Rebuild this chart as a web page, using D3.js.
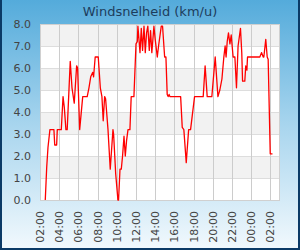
<!DOCTYPE html>
<html>
<head>
<meta charset="utf-8">
<script src="https://cdn.jsdelivr.net/npm/d3@7"></script>
<style>
html,body{margin:0;padding:0;background:#fff;}
svg{display:block;font-family:"DejaVu Sans",sans-serif;}
</style>
</head>
<body>
<svg id="c" width="300" height="250"></svg>
<script>
const title = "Windsnelheid (km/u)";
const times = ["02:33","02:42","02:50","03:02","03:27","03:32","03:44","03:48","04:13","04:24",
"04:32","04:42","04:50","05:09","05:20","05:34","05:49","05:55","06:08","06:27",
"06:55","07:06","07:17","07:29","07:35","07:45","08:04","08:17","08:27","08:35",
"08:44","08:50","09:05","09:19","09:36","09:40","09:53","10:07","10:11","10:20",
"10:28","10:36","10:45","10:53","11:01","11:10","11:22","11:30","11:47","12:00",
"12:08","12:12","12:25","12:33","12:41","12:50","12:58","13:06","13:14","13:23",
"13:31","13:39","13:52","14:00","14:13","14:21","14:38","14:46","14:59","15:07",
"15:15","15:21","15:27","15:32","16:39","16:49","16:59","17:14","17:29","17:41",
"18:06","19:00","19:12","19:25","19:54","20:15","20:32","20:44","20:57","21:09",
"21:17","21:23","21:30","21:38","21:47","21:55","22:07","22:18","22:28","22:38",
"22:53","23:01","23:06","23:20","23:26","23:33","23:37","00:54","01:05","01:15",
"01:19","01:31","01:40","01:46","01:59","02:13"];
const speeds = [0.0,1.5,2.4,3.2,3.2,2.5,2.5,3.2,3.2,4.7,
4.2,3.2,3.2,6.3,5.1,4.4,6.1,6.0,3.2,4.7,
4.7,5.1,5.6,5.8,5.6,6.5,6.5,5.1,4.7,3.6,
4.7,4.6,3.2,1.4,3.2,3.0,1.2,0.0,0.0,1.4,
1.4,2.0,2.9,2.0,2.7,3.2,3.2,4.7,4.7,7.1,
7.2,7.9,6.7,7.8,6.8,7.9,6.7,7.6,7.9,6.8,
7.7,6.7,7.9,7.3,6.5,7.0,7.9,7.9,6.5,6.5,
4.8,4.7,4.8,4.7,4.7,3.3,3.2,1.7,3.2,3.2,
4.7,4.7,6.1,4.7,4.7,6.5,4.7,5.0,5.5,6.5,
7.0,6.5,7.2,7.6,7.1,7.5,6.5,6.5,5.1,7.0,
7.8,6.7,5.4,5.4,6.1,5.9,6.5,6.5,6.7,6.5,
6.5,7.3,6.5,6.4,2.1,2.1];
const yTicks = [0,1,2,3,4,5,6,7,8];
const startTime = "2024-01-01 02:00";
const endTime = "2024-01-02 03:00";

const parse = d3.timeParse("%Y-%m-%d %H:%M");
const t0 = parse(startTime), t1 = parse(endTime);
// build dates with day rollover
let day = 0, prev = -1;
const data = times.map((s, i) => {
  const [h, m] = s.split(":").map(Number);
  const mins = h * 60 + m;
  if (prev >= 0 && mins < prev) day++;
  prev = mins;
  const d = new Date(t0.getFullYear(), t0.getMonth(), t0.getDate() + day, h, m);
  return {t: d, v: speeds[i]};
});

const svg = d3.select("#c");
const W = 300, H = 250;
const L = 40, R = 280, T = 24, B = 200;

const defs = svg.append("defs");
const g = defs.append("linearGradient").attr("id", "bg").attr("x1", 0).attr("y1", 0).attr("x2", 0).attr("y2", 1);
g.append("stop").attr("offset", "0%").attr("stop-color", "#54abdb");
g.append("stop").attr("offset", "50%").attr("stop-color", "#a8d5ee");
g.append("stop").attr("offset", "100%").attr("stop-color", "#f2f9fd");
svg.append("rect").attr("width", W).attr("height", H).attr("fill", "url(#bg)");
// frame
svg.append("path").attr("d", `M1,0 V249 H299 V0`).attr("fill", "none").attr("stroke", "#0b3a66").attr("stroke-width", 2);

const x = d3.scaleTime().domain([t0, t1]).range([L, R]);
const y = d3.scaleLinear().domain([0, 8]).range([B, T]);

// bands
svg.append("g").selectAll("rect").data(yTicks.slice(0, -1)).join("rect")
  .attr("x", L).attr("width", R - L)
  .attr("y", d => y(d + 1)).attr("height", d => y(d) - y(d + 1))
  .attr("fill", d => d % 2 === 1 ? "#f2f2f2" : "#ffffff");

// horizontal grid
svg.append("g").selectAll("line").data(yTicks).join("line")
  .attr("x1", L).attr("x2", R)
  .attr("y1", d => Math.round(y(d)) + 0.5).attr("y2", d => Math.round(y(d)) + 0.5)
  .attr("stroke", "#dddddd").attr("stroke-width", 1);

const xTicks = x.ticks(d3.timeHour.every(2));
// vertical grid
svg.append("g").selectAll("line").data(xTicks).join("line")
  .attr("x1", d => Math.round(x(d)) + 0.5).attr("x2", d => Math.round(x(d)) + 0.5)
  .attr("y1", T).attr("y2", B)
  .attr("stroke", "#cccccc").attr("stroke-width", 1);

// plot border
svg.append("rect").attr("x", L + 0.5).attr("y", T + 0.5).attr("width", R - L - 1).attr("height", B - T)
  .attr("fill", "none").attr("stroke", "#d0d0d0").attr("stroke-width", 1);

// line
const line = d3.line().x(d => x(d.t)).y(d => y(d.v));
svg.append("path").datum(data).attr("d", line)
  .attr("fill", "none").attr("stroke", "#ff0000").attr("stroke-width", 1.3)
  .attr("stroke-linejoin", "round");

// y axis labels
const yAxis = d3.axisLeft(y).tickValues(yTicks).tickFormat(d3.format(".1f")).tickSize(0).tickPadding(0);
const ya = svg.append("g").attr("transform", `translate(31,0)`).call(yAxis);
ya.select(".domain").remove();
ya.selectAll("text").attr("font-size", 11).attr("fill", "#444").attr("font-family", "DejaVu Sans");

// x axis labels
const xAxis = d3.axisBottom(x).tickValues(xTicks).tickFormat(d3.timeFormat("%H:%M")).tickSize(0);
const xa = svg.append("g").attr("transform", `translate(0,${B})`).call(xAxis);
xa.select(".domain").remove();
xa.selectAll("text")
  .attr("font-size", 11).attr("fill", "#444").attr("font-family", "DejaVu Sans")
  .attr("text-anchor", "end").attr("dy", null)
  .attr("dominant-baseline", "central")
  .attr("transform", "translate(0,11) rotate(-90)")
  .attr("x", 0).attr("y", 0);

// title
svg.append("text").attr("x", 150).attr("y", 15.5).attr("text-anchor", "middle")
  .attr("font-size", 13).attr("fill", "#1d3d5c").text(title);
</script>
</body>
</html>
